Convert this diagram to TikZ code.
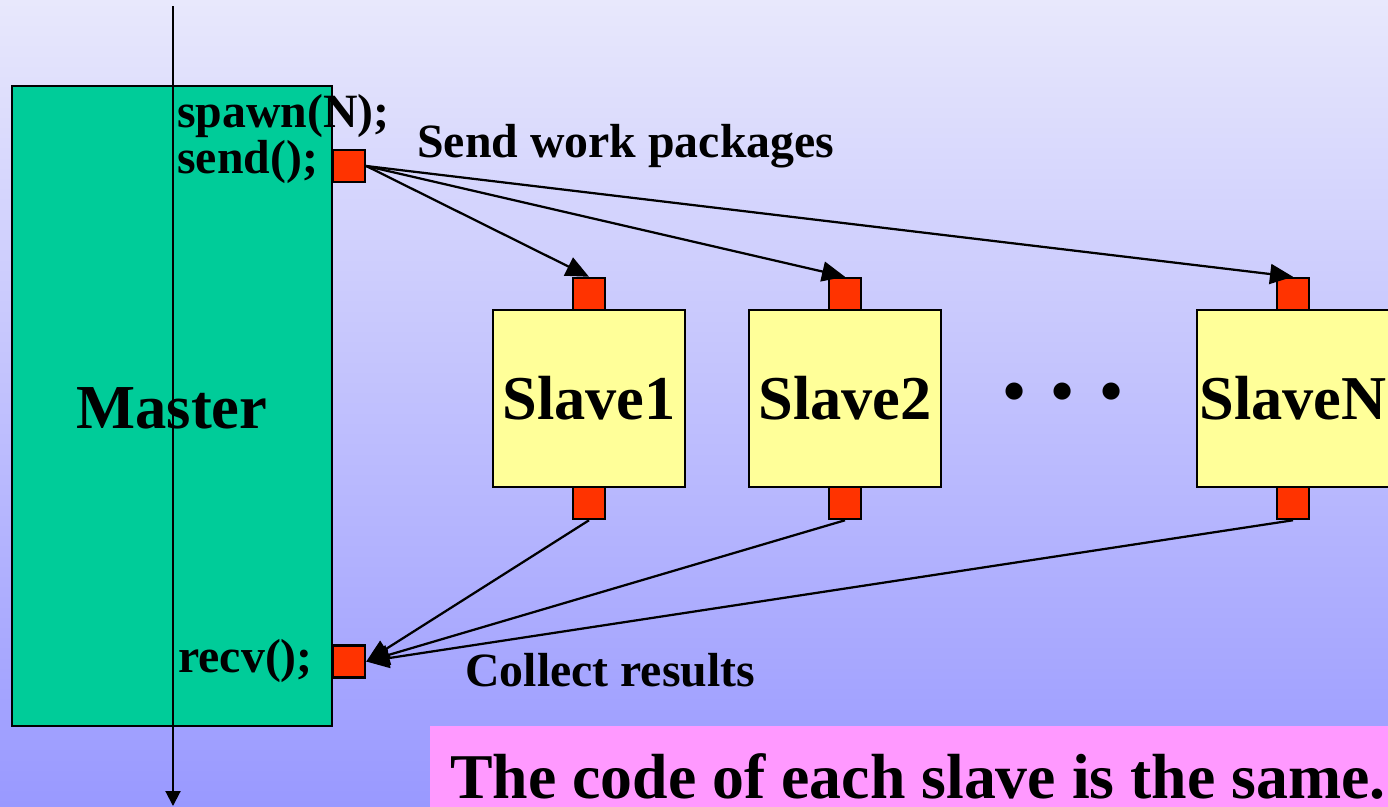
\documentclass[tikz,border=0pt]{standalone}
\usepackage{fontspec}
\setmainfont{Liberation Serif}
\usetikzlibrary{arrows.meta}
\definecolor{mgreen}{RGB}{0,204,153}
\definecolor{syellow}{RGB}{255,255,153}
\definecolor{pred}{RGB}{255,51,0}
\definecolor{bpink}{RGB}{255,153,255}
\definecolor{bgtop}{RGB}{232,232,252}
\definecolor{bgbot}{RGB}{153,153,255}
\begin{document}
\begin{tikzpicture}[x=0.02cm,y=-0.02cm,
  box/.style={draw=black, line width=0.05cm, inner sep=0pt},
  masterbox/.style={box, fill=mgreen, minimum width=6.4cm, minimum height=12.8cm},
  slavebox/.style={box, fill=syellow, minimum width=3.84cm, minimum height=3.54cm, font=\fontsize{35.5}{40}\selectfont\bfseries},
  portbox/.style={box, fill=pred, minimum size=0.64cm},
  codetext/.style={font=\fontsize{27.2}{30}\selectfont\bfseries, inner sep=0pt, anchor=base west},
  labeltext/.style={font=\fontsize{27.2}{30}\selectfont\bfseries, inner sep=0pt, anchor=base west},
  msg/.style={line width=0.045cm, -{Triangle[length=0.46cm,width=0.4cm]}}
]
\useasboundingbox (0,0) rectangle (1388,806);
\clip (0,0) rectangle (1388,806);
\shade[top color=bgtop, bottom color=bgbot] (0,0) rectangle (1388,806);

% master
\node[masterbox] (master) at (172,406) {};
\node[font=\fontsize{35.6}{40}\selectfont\bfseries, inner sep=0pt] (mastertext) at (172,408) {Master};

% timeline
\coordinate (tl0) at (173,6);
\coordinate (tl1) at (173,806);
\draw[line width=0.04cm, -{Triangle[length=0.3cm,width=0.3cm]}] (tl0) -- (tl1);

% code
\node[codetext] (spawn) at (177,127) {spawn(N);};
\node[codetext] (send) at (177,173) {send();};
\node[codetext] (recv) at (178,672) {recv();};

% slaves
\node[slavebox] (s1) at (589,398.5) {Slave1};
\node[slavebox] (s2) at (845,398.5) {Slave2};
\node[slavebox] (sN) at (1293,398.5) {SlaveN};
\node[font=\fontsize{36}{40}\selectfont\bfseries, inner sep=0pt] (dots) at (1063,398) {•\hspace{0.42em}•\hspace{0.42em}•};

% ports
\node[portbox] (sendp) at (349,166) {};
\node[portbox] (recvp) at (349,661.5) {};
\node[portbox] (s1t) at (589,294) {};
\node[portbox] (s2t) at (845,294) {};
\node[portbox] (sNt) at (1293,294) {};
\node[portbox] (s1b) at (589,503) {};
\node[portbox] (s2b) at (845,503) {};
\node[portbox] (sNb) at (1293,503) {};

% messages
\draw[msg] (sendp.east) -- (s1t.north);
\draw[msg] (sendp.east) -- (s2t.north);
\draw[msg] (sendp.east) -- (sNt.north);
\draw[msg] (s1b.south) -- (recvp.east);
\draw[msg] (s2b.south) -- (recvp.east);
\draw[msg] (sNb.south) -- (recvp.east);

\node[labeltext] (sendlbl) at (417,157) {Send work packages};
\node[labeltext] (collectlbl) at (465,686) {Collect results};

% banner
\node[fill=bpink, inner sep=0pt, anchor=north west, minimum width=19.6cm, minimum height=2cm] (banner) at (430,726) {};
\node[font=\fontsize{36.3}{40}\selectfont\bfseries, inner sep=0pt, anchor=base west] (bannertext) at (450,798) {The code of each slave is the same.};
\end{tikzpicture}
\end{document}
